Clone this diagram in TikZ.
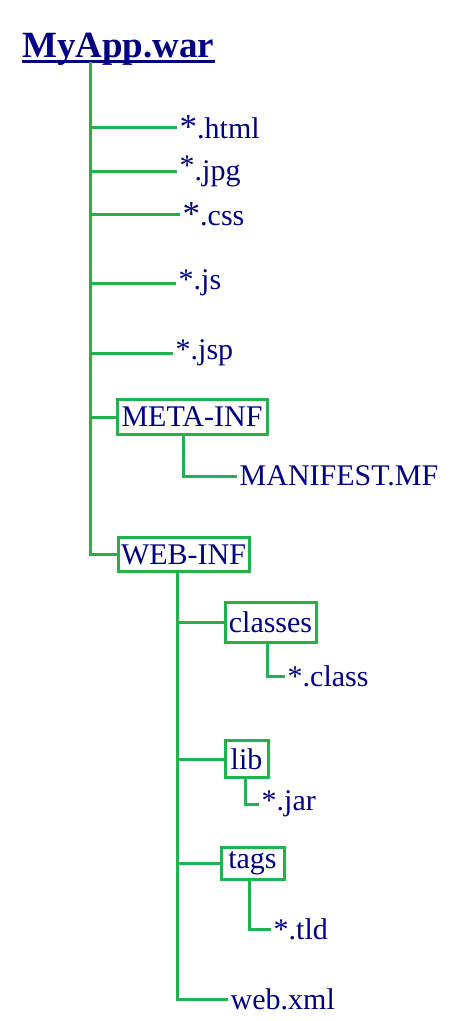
\documentclass[tikz,border=0pt]{standalone}
\usepackage{fontspec}
\setmainfont{Liberation Serif}
\usepackage{tikz}
\usepackage{xcolor}
\usetikzlibrary{positioning,calc}
\definecolor{navy}{HTML}{000080}
\definecolor{treegreen}{HTML}{22B14C}
\newcommand{\bigast}{{\fontsize{35}{35}\selectfont *}}

\begin{document}
\begin{tikzpicture}[x=1pt,y=-1pt,
    every node/.style={text=navy, font=\fontsize{30}{30}\selectfont},
    leaf/.style={anchor=west, inner xsep=2.5pt, inner ysep=0pt},
    folder/.style={draw=treegreen, line width=3pt, anchor=west, inner sep=0pt},
    branch/.style={draw=treegreen, line width=3pt}]
    \useasboundingbox (0,0) rectangle (460,1021);

    % Root
    \node[anchor=base west, inner sep=0pt, font=\fontsize{37}{37}\selectfont\bfseries] (war) at (22,57) {MyApp.war};
    \draw[navy, line width=3pt] ([yshift=-4.5pt]war.base west) -- ([yshift=-4.5pt]war.base east);
    \coordinate (trunk) at (90,62);

    % Files at the top level
    \node[leaf] (html) at (177,127) {\bigast.html};
    \node[leaf] (jpg) at (177,171) {\raisebox{5pt}{*}.jpg};
    \node[leaf] (css) at (180,214) {\bigast.css};
    \node[leaf] (js) at (176,283) {*.js};
    \node[leaf] (jsp) at (173,353) {*.jsp};
    \foreach \f in {html,jpg,css,js,jsp}
        \draw[branch] (\f.west -| trunk) -- (\f.west);

    % META-INF
    \node[folder, minimum width=150pt, minimum height=35pt] (metainf) at (115.5,417) {META-INF};
    \node[leaf] (manifest) at (237,476) {MANIFEST.MF};
    \draw[branch] (metainf.west -| trunk) -- (metainf.west);
    \draw[branch] ([xshift=-8.5pt]metainf.south) |- (manifest.west);

    % WEB-INF
    \node[folder, minimum width=131pt, minimum height=34pt] (webinf) at (116.5,554.5) {WEB-INF};
    \draw[branch] (trunk) |- (webinf.west);
    \coordinate (webtrunk) at ([xshift=-6pt]webinf.south);

    \node[folder, minimum width=91pt, minimum height=40pt] (classes) at (223.5,622.5) {classes};
    \node[leaf] (class) at (285,676) {*.class};
    \node[folder, minimum width=43pt, minimum height=37pt] (lib) at (223.5,759) {lib};
    \node[leaf] (jar) at (259,804) {*.jar};
    \node[folder, minimum width=63pt, minimum height=32pt] (tags) at (219.5,863.5) {tags};
    \node[leaf] (tld) at (271,929) {*.tld};
    \node[leaf] (webxml) at (228,999) {web.xml};

    \draw[branch] (webtrunk) |- (webxml.west);
    \foreach \d in {classes,lib,tags}
        \draw[branch] (\d.west -| webtrunk) -- (\d.west);
    \draw[branch] ([xshift=-3pt]classes.south) |- (class.west);
    \draw[branch] ([xshift=-1pt]lib.south) |- (jar.west);
    \draw[branch] ([xshift=-3pt]tags.south) |- (tld.west);
\end{tikzpicture}
\end{document}
